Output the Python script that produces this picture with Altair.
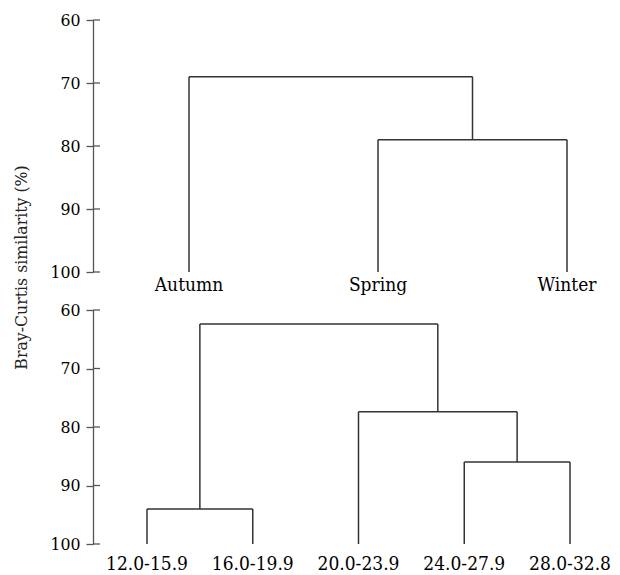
import altair as alt
import pandas as pd

# ---- data ----
top_leaves = ["Autumn", "Spring", "Winter"]
top_merges = [(1, 2, 79.0), (0, ("m", 0), 69.0)]

bottom_leaves = ["12.0-15.9", "16.0-19.9", "20.0-23.9", "24.0-27.9", "28.0-32.8"]
bottom_merges = [(0, 1, 94.0), (3, 4, 86.0), (2, ("m", 1), 77.4), (("m", 0), ("m", 2), 62.4)]

y_ticks = [60, 70, 80, 90, 100]
LEAF_LEVEL = 100


def segments(leaves, merges):
    pos = {}
    height = {}
    for i, _ in enumerate(leaves):
        pos[i] = i + 1
        height[i] = LEAF_LEVEL
    rows = []
    for k, (a, b, h) in enumerate(merges):
        xa, xb = pos[a], pos[b]
        rows.append({"x": xa, "x2": xa, "y": height[a], "y2": h})
        rows.append({"x": xb, "x2": xb, "y": height[b], "y2": h})
        rows.append({"x": xa, "x2": xb, "y": h, "y2": h})
        pos[("m", k)] = (xa + xb) / 2
        height[("m", k)] = h
    return pd.DataFrame(rows)


FONT = "DejaVu Serif Condensed"
LINE = "#333333"
W = 500


def panel(leaves, merges, height, xdom, label_dy, title):
    seg = segments(leaves, merges)
    lab = pd.DataFrame({"x": list(range(1, len(leaves) + 1)), "label": leaves,
                        "y": [LEAF_LEVEL] * len(leaves)})
    ticks = pd.DataFrame({"v": y_ticks})
    xs = alt.Scale(domain=xdom, nice=False, zero=False)
    ys = alt.Scale(domain=[60, 100], reverse=True, nice=False, zero=False)
    axis_kw = dict(values=y_ticks, grid=False, tickSize=7, domainColor="#555555",
                   tickColor="#555555", labelFont=FONT, labelFontSize=17.5,
                   labelColor="black", labelPadding=6, domainWidth=1.3, tickWidth=1.3)
    if title:
        yaxis = alt.Axis(title=title, titleFont=FONT, titleFontSize=17.5,
                         titleFontWeight="normal", titleColor="#222222",
                         titleY=247, titleAlign="center", titlePadding=19, **axis_kw)
    else:
        yaxis = alt.Axis(title=None, **axis_kw)
    rules = alt.Chart(seg).mark_rule(color=LINE, strokeWidth=1.5).encode(
        x=alt.X("x:Q", scale=xs, axis=None),
        x2="x2:Q",
        y=alt.Y("y:Q", scale=ys, axis=yaxis),
        y2="y2:Q",
    )
    inner = alt.Chart(ticks).mark_rule(color="#555555", strokeWidth=1.3).encode(
        y=alt.Y("v:Q", scale=ys),
        x=alt.value(0), x2=alt.value(7),
    )
    text = alt.Chart(lab).mark_text(font=FONT, fontSize=19, color="black",
                                    baseline="middle", dy=label_dy).encode(
        x=alt.X("x:Q", scale=xs),
        y=alt.Y("y:Q", scale=ys),
        text="label:N",
    )
    return alt.layer(rules, inner, text).properties(width=W, height=height)


top = panel(top_leaves, top_merges, 252, [1 - 96 / 189, 1 - 96 / 189 + W / 189], 13,
            "Bray-Curtis similarity (%)")
bottom = panel(bottom_leaves, bottom_merges, 234,
               [1 - 54 / 105.75, 1 - 54 / 105.75 + W / 105.75], 20, None)

chart = alt.vconcat(top, bottom, spacing=38, bounds="flush").properties(
    padding={"left": 4, "top": 3, "right": 0, "bottom": 0},
    background="white",
).configure_view(stroke=None)

chart.save("out.html", embed_options={"renderer": "svg", "actions": False})
